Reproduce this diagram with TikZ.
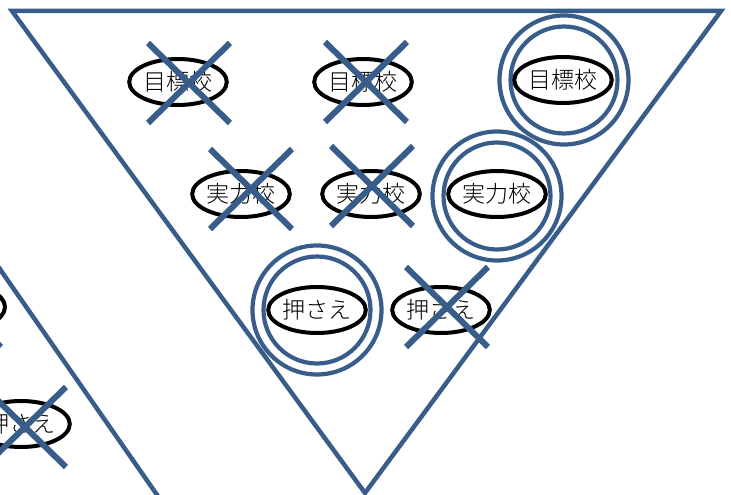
\documentclass[tikz,border=0pt]{standalone}
\usepackage{fontspec}
\newfontfamily\jp{Noto Sans CJK JP Light}
\usetikzlibrary{shapes.geometric}
\definecolor{xblue}{RGB}{56,93,138}
\begin{document}
\begin{tikzpicture}[x=1pt,y=-1pt,
  oval/.style={ellipse, draw=black, fill=white, line width=4pt, minimum width=94pt, minimum height=46pt, inner sep=0pt, font=\jp\fontsize{23}{23}\selectfont},
  ringbig/.style={circle, draw=xblue, line width=4.2pt, inner sep=0pt, minimum size=129pt},
  ringsmall/.style={circle, draw=xblue, line width=4.2pt, inner sep=0pt, minimum size=107pt},
  tri/.style={draw=xblue, line width=4.5pt, line join=miter},
  cross/.style={draw=xblue, line width=6pt}]
\useasboundingbox (0,0) rectangle (731,495);
\clip (0,0) rectangle (731,495);
% triangles
\coordinate (tl) at (12,11);
\coordinate (tr) at (721,11);
\coordinate (ap) at (365,493);
\draw[tri] (tl) -- (tr) -- (ap) -- cycle;
\coordinate (la) at (-12,252);
\coordinate (lb) at (162,502);
\draw[tri] (la) -- (lb);
% rings
\node[ringbig] (r1o) at (564,80) {};
\node[ringsmall] (r1i) at (564,80) {};
\node[ringbig] (r2o) at (497,196) {};
\node[ringsmall] (r2i) at (497,196) {};
\node[ringbig] (r3o) at (317,310) {};
\node[ringsmall] (r3i) at (317,310) {};
% ellipses
\node[oval] (e1) at (178,82) {目標校};
\node[oval] (e2) at (363,82) {目標校};
\node[oval] (e3) at (563,80) {目標校};
\node[oval] (e4) at (241,194) {実力校};
\node[oval] (e5) at (371,194) {実力校};
\node[oval] (e6) at (497,194) {実力校};
\node[oval] (e7) at (317,310) {押さえ};
\node[oval] (e8) at (441,310) {押さえ};
\node[oval] (e9) at (-42,307) {};
\node[oval] (e10) at (21,424) {押さえ};
% crosses
\coordinate (x1) at (189,83);
\coordinate (x2) at (366,82);
\coordinate (x4) at (251,189);
\coordinate (x5) at (372,186);
\coordinate (x8) at (447,307);
\coordinate (x9) at (-40,307);
\coordinate (x10) at (25,427);
\foreach \c in {x1,x2,x4,x5,x8,x9,x10}{
  \draw[cross] ([shift={(-41,-40)}]\c) -- ([shift={(41,40)}]\c);
  \draw[cross] ([shift={(41,-40)}]\c) -- ([shift={(-41,40)}]\c);
}
\end{tikzpicture}
\end{document}
